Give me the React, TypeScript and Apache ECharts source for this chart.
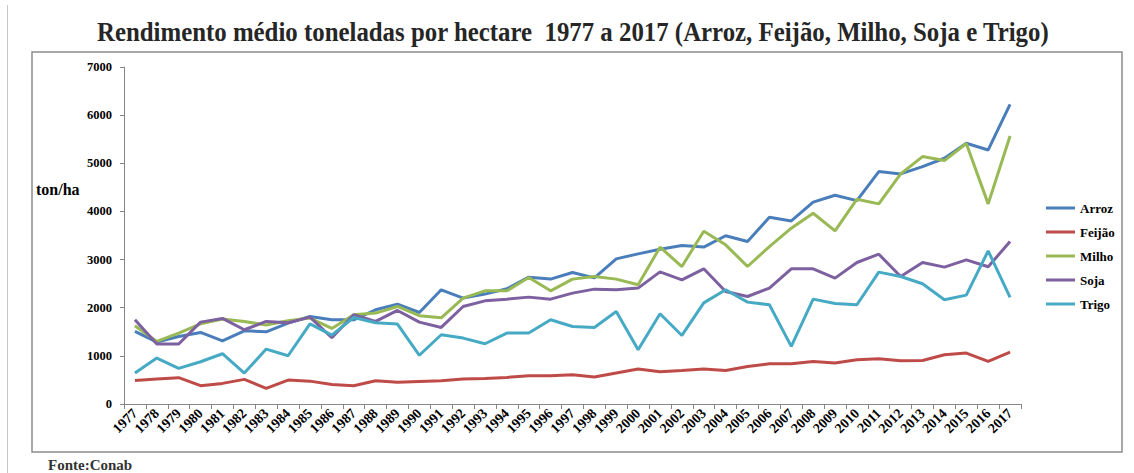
import React, { useEffect, useRef } from "react";
import * as echarts from "echarts";

const years = [
  "1977","1978","1979","1980","1981","1982","1983","1984","1985","1986","1987","1988","1989","1990",
  "1991","1992","1993","1994","1995","1996","1997","1998","1999","2000","2001","2002","2003","2004",
  "2005","2006","2007","2008","2009","2010","2011","2012","2013","2014","2015","2016","2017",
];

const arroz = [
  1507, 1287, 1403, 1486, 1313, 1521, 1500, 1681, 1818, 1749, 1749, 1957, 2075, 1901,
  2372, 2200, 2283, 2393, 2635, 2594, 2732, 2620, 3015, 3119, 3216, 3291, 3260, 3495,
  3375, 3880, 3803, 4192, 4337, 4225, 4827, 4779, 4930, 5105, 5416, 5277, 6225,
];
const feijao = [
  490, 519, 546, 380, 428, 511, 324, 497, 475, 407, 380, 482, 454, 469,
  483, 517, 531, 552, 587, 587, 607, 559, 642, 725, 670, 697, 729, 694,
  780, 836, 836, 884, 850, 919, 940, 898, 905, 1023, 1058, 884, 1077,
];
const milho = [
  1625, 1299, 1473, 1666, 1764, 1715, 1639, 1729, 1784, 1570, 1853, 1888, 2026, 1835,
  1791, 2200, 2351, 2351, 2628, 2351, 2594, 2648, 2594, 2476, 3258, 2856, 3590, 3306,
  2856, 3271, 3652, 3963, 3596, 4254, 4157, 4779, 5139, 5056, 5410, 4157, 5568,
];
const soja = [
  1749, 1245, 1245, 1701, 1777, 1542, 1715, 1687, 1805, 1376, 1853, 1715, 1943, 1700,
  1590, 2026, 2143, 2178, 2220, 2178, 2303, 2386, 2372, 2407, 2745, 2580, 2808, 2337,
  2233, 2407, 2808, 2808, 2614, 2939, 3112, 2648, 2939, 2843, 2994, 2850, 3375,
];
const trigo = [
  643, 954, 739, 878, 1044, 643, 1141, 1002, 1666, 1432, 1797, 1687, 1660, 1012,
  1438, 1369, 1252, 1473, 1473, 1749, 1611, 1590, 1922, 1127, 1874, 1424, 2100, 2372,
  2116, 2061, 1196, 2178, 2088, 2061, 2739, 2648, 2497, 2164, 2261, 3181, 2213,
];

const seriesNames = ["Arroz", "Feijão", "Milho", "Soja", "Trigo"];
const seriesData = [arroz, feijao, milho, soja, trigo];
const seriesColors = ["#4A7EBB", "#BE4B48", "#98B954", "#7D60A0", "#46AAC5"];

const titleText = "Rendimento médio toneladas por hectare  1977 a 2017 (Arroz, Feijão, Milho, Soja e Trigo)";
const FONT = "Liberation Serif";

export default function App() {
  const ref = useRef<HTMLDivElement>(null);
  useEffect(() => {
    if (!ref.current) return;
    const chart = echarts.init(ref.current, null, { renderer: "svg" });
    chart.setOption({
      animation: false,
      backgroundColor: "#ffffff",
      grid: { left: 124, right: 113, top: 67, bottom: 69, containLabel: false },
      legend: {
        orient: "vertical",
        left: 1041,
        top: 196,
        icon: "rect",
        itemWidth: 29,
        itemHeight: 3,
        itemGap: 10,
        data: seriesNames,
        textStyle: { fontFamily: FONT, fontWeight: "bold", fontSize: 13, color: "#000", lineHeight: 14 },
      },
      xAxis: {
        type: "category",
        data: years,
        boundaryGap: true,
        axisLine: { lineStyle: { color: "#868686", width: 1 } },
        axisTick: { show: true, interval: 0, length: 5, lineStyle: { color: "#868686" } },
        axisLabel: {
          interval: 0,
          rotate: 45,
          margin: 7,
          fontFamily: FONT,
          fontWeight: "bold",
          fontSize: 14,
          color: "#000",
        },
        splitLine: { show: false },
      },
      yAxis: {
        type: "value",
        min: 0,
        max: 7000,
        interval: 1000,
        axisLine: { show: true, lineStyle: { color: "#868686", width: 1 } },
        axisTick: { show: true, length: 4, lineStyle: { color: "#868686" } },
        axisLabel: {
          margin: 12,
          fontFamily: FONT,
          fontWeight: "bold",
          fontSize: 12.5,
          color: "#000",
          formatter: (v: number) => String(v),
        },
        splitLine: { show: false },
      },
      series: seriesNames.map((name, i) => ({
        name,
        type: "line",
        data: seriesData[i],
        symbol: "none",
        color: seriesColors[i],
        lineStyle: { width: 3, color: seriesColors[i] },
      })),
      graphic: [
        {
          type: "line",
          shape: { x1: 7.5, y1: 5, x2: 7.5, y2: 473 },
          style: { stroke: "#c8c8c8", lineWidth: 1 },
          silent: true,
        },
        {
          type: "rect",
          shape: { x: 32, y: 52, width: 1090, height: 400 },
          style: { fill: "none", stroke: "#8c8c8c", lineWidth: 1.5 },
          silent: true,
        },
        {
          type: "text",
          x: 97,
          y: 32,
          scaleX: 0.92,
          style: {
            text: titleText,
            fontFamily: FONT,
            fontWeight: "bold",
            fontSize: 27,
            fill: "#262626",
            align: "left",
            verticalAlign: "middle",
          },
          silent: true,
        },
        {
          type: "text",
          x: 36,
          y: 189,
          style: {
            text: "ton/ha",
            fontFamily: FONT,
            fontWeight: "bold",
            fontSize: 16,
            fill: "#000",
            align: "left",
            verticalAlign: "middle",
          },
          silent: true,
        },
        {
          type: "text",
          x: 48,
          y: 465,
          style: {
            text: "Fonte:Conab",
            fontFamily: FONT,
            fontWeight: "bold",
            fontSize: 15,
            fill: "#333",
            align: "left",
            verticalAlign: "middle",
          },
          silent: true,
        },
      ],
    });
    return () => chart.dispose();
  }, []);
  return (
    <div
      ref={ref}
      style={{ position: "absolute", left: 0, top: 0, width: 1134, height: 473, background: "#fff" }}
    />
  );
}
